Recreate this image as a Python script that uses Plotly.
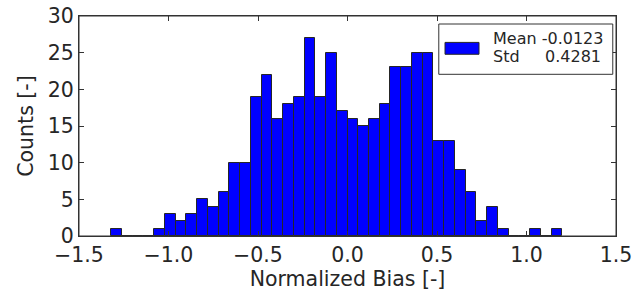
import plotly.graph_objects as go

# ---- data ----
bin_start = -1.32
bin_width = 0.06
counts = [1, 0, 0, 0, 1, 3, 2, 3, 5, 4, 6, 10, 10, 19, 22, 16, 18, 19, 27, 19,
          25, 17, 16, 15, 16, 18, 23, 23, 25, 25, 13, 13, 9, 6, 2, 4, 1, 0, 0, 1,
          0, 1]
stat_names = ["Mean", "Std"]
stat_values = ["-0.0123", "0.4281"]
x_ticks = [-1.5, -1.0, -0.5, 0.0, 0.5, 1.0, 1.5]
x_ticklabels = ["\u22121.5", "\u22121.0", "\u22120.5", "0.0", "0.5", "1.0", "1.5"]
y_ticks = [0, 5, 10, 15, 20, 25, 30]

centers = [bin_start + bin_width * (i + 0.5) for i in range(len(counts))]

FONT = "DejaVu Sans"
TXT = "#262626"

fig = go.Figure()
fig.add_trace(go.Bar(
    x=centers, y=counts, width=bin_width,
    marker=dict(color="#0000ff", line=dict(color="#262626", width=1)),
    showlegend=False, hoverinfo="x+y",
))

axis_common = dict(
    showline=True, linecolor="#333333", linewidth=1.2, mirror="ticks",
    ticks="inside", ticklen=5, tickcolor="#333333", tickwidth=1,
    showgrid=False, zeroline=False, automargin=False,
    ticklabeloverflow="allow",
    tickfont=dict(family=FONT, size=20.5, color=TXT),
)

fig.update_layout(
    width=642, height=294,
    margin=dict(l=79, r=26, t=16, b=58),
    paper_bgcolor="white", plot_bgcolor="white",
    bargap=0,
    xaxis=dict(range=[-1.5, 1.5], tickvals=x_ticks, ticktext=x_ticklabels,
               title=dict(text="Normalized Bias [-]", font=dict(family=FONT, size=20.5, color=TXT),
                          standoff=2),
               **axis_common),
    yaxis=dict(range=[0, 30], tickvals=y_ticks,
               title=dict(text="Counts [-]", font=dict(family=FONT, size=20.5, color=TXT),
                          standoff=8),
               **axis_common),
)

# plot frame (ensures a full box like the reference)
fig.add_shape(type="rect", xref="paper", yref="paper", x0=0, x1=1, y0=0, y1=1,
              line=dict(color="#333333", width=1), fillcolor="rgba(0,0,0,0)", layer="above")

# custom legend box (matplotlib-style)
fig.add_shape(type="rect", xref="paper", yref="paper",
              x0=0.670, x1=0.994, y0=0.735, y1=0.9636,
              line=dict(color="#333333", width=1), fillcolor="white", layer="above")
fig.add_shape(type="rect", xref="paper", yref="paper",
              x0=0.6816, x1=0.7449, y0=0.826, y1=0.880,
              line=dict(color="#262626", width=1), fillcolor="#0000ff", layer="above")
ys = [0.900, 0.818]
fig.add_annotation(xref="paper", yref="paper", x=0.768, y=ys[0],
                   text=stat_names[0] + " " + stat_values[0],
                   showarrow=False, xanchor="left", yanchor="middle",
                   font=dict(family=FONT, size=16, color=TXT))
fig.add_annotation(xref="paper", yref="paper", x=0.768, y=ys[1], text=stat_names[1],
                   showarrow=False, xanchor="left", yanchor="middle",
                   font=dict(family=FONT, size=16, color=TXT))
fig.add_annotation(xref="paper", yref="paper", x=0.975, y=ys[1], text=stat_values[1],
                   showarrow=False, xanchor="right", yanchor="middle",
                   font=dict(family=FONT, size=16, color=TXT))

fig.write_html("out.html", config={"displayModeBar": False},
               post_script="document.body.style.margin='0px';document.body.style.padding='0px';")
